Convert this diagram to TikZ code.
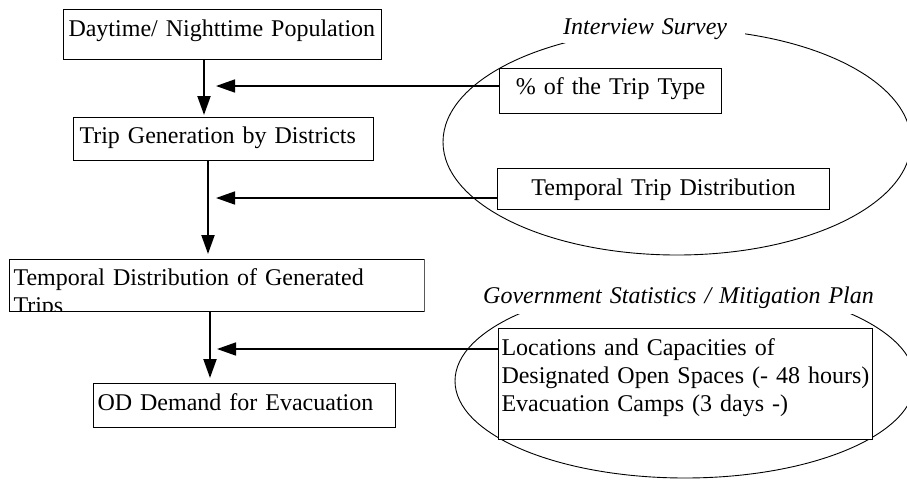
\documentclass[tikz,border=0pt]{standalone}
\usepackage{fontspec}
\setmainfont{Liberation Serif}
\usetikzlibrary{arrows.meta}
\begin{document}
\begin{tikzpicture}[x=1pt, y=-1pt,
                every node/.style={font=\fontsize{24}{28}\selectfont, inner xsep=4pt, inner ysep=4pt, anchor=north west},
                box_style/.style={draw=black, fill=white, line width=1pt, align=left},
                label_style/.style={fill=white, inner sep=0pt, anchor=base west, align=left, text height=25pt, font=\fontsize{24}{28}\selectfont\itshape},
                edge_style/.style={draw=black, line width=2pt, -{Triangle[length=19pt,width=13pt]}}]
                \tikzset{feed edge/.style={edge_style, line width=1.6pt}}
                \clip (0,0) rectangle (907,480);
                % source groups
                \draw[line width=0.9pt] (677,142) ellipse [x radius=234, y radius=113];
                \draw[line width=0.9pt] (685,381) ellipse [x radius=230, y radius=97];
                \node[label_style, text width=182pt, text depth=9pt] (l1) at (563,34) {Interview Survey};
                \node[label_style, text width=400pt, text depth=11pt] (l2) at (483,303) {\mbox{Government Statistics / Mitigation Plan}};
                % main chain
                \node[box_style, inner xsep=5pt, text width=308pt, text height=23pt, text depth=19pt] (b1) at (63,9) {\mbox{Daytime/ Nighttime Population}};
                \node[box_style, inner xsep=6pt, text width=288pt, text height=22pt, text depth=13pt] (b2) at (73,117) {Trip Generation by Districts};
                \begin{scope}
                \clip (8.5,258.5) rectangle (424.5,311.5);
                \node[box_style, text width=407pt, text height=22pt, text depth=22pt] (b3) at (9,259) {Temporal Distribution of Generated\\Trips};
                \end{scope}
                \node[box_style, text width=294pt, text height=23pt, text depth=13pt] (b4) at (93,383) {OD Demand for Evacuation};
                % input data
                \node[box_style, align=center, text width=214pt, text height=22pt, text depth=15pt] (d1) at (499,68) {\% of the Trip Type};
                \node[box_style, align=center, text width=324pt, text height=23pt, text depth=10pt] (d2) at (497,168) {Temporal Trip Distribution};
                \node[box_style, inner xsep=3pt, text width=368pt, text height=23pt, text depth=80pt] (d3) at (498,328) {\mbox{Locations and Capacities of}\\\mbox{Designated Open Spaces (- 48 hours)}\\\mbox{Evacuation Camps (3 days -)}};
                \coordinate (j1) at (216,86);
                \coordinate (j2) at (216,198);
                \coordinate (j3) at (217,349);
                \draw[edge_style, shorten >=2pt] ([xshift=141pt]b1.south west) -- ([xshift=131pt]b2.north west);
                \draw[edge_style, shorten >=5pt] ([xshift=135pt]b2.south west) -- ([xshift=199pt]b3.north west);
                \draw[edge_style, shorten >=5pt] ([xshift=201pt]b3.south west) -- ([xshift=117pt]b4.north west);
                \draw[feed edge] ([yshift=-18pt]d1.north west) -- (j1);
                \draw[feed edge] ([yshift=-30pt]d2.north west) -- (j2);
                \draw[feed edge] ([yshift=-21pt]d3.north west) -- (j3);
            \end{tikzpicture}
\end{document}
